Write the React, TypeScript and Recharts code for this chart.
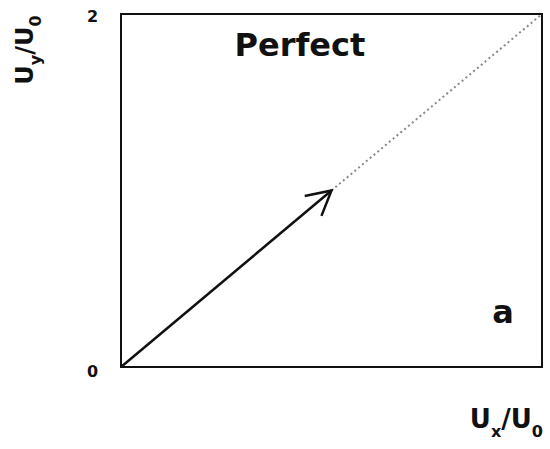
import { ComposedChart, Line, XAxis, YAxis, ReferenceArea, ReferenceDot, Label } from "recharts";

// velocity ratio axes run 0..2 on both sides
const axisTicks = [0, 2];
const velocityX = [0, 1];
const velocityY = [0, 1];
const guideX = [1, 2];
const guideY = [1, 2];

const arrowData = velocityX.map((x, i) => ({ x, y: velocityY[i] }));
const guideData = guideX.map((x, i) => ({ x, y: guideY[i] }));

const FONT = "'DejaVu Sans', sans-serif";

function YTick(props: any) {
  const { y, payload } = props;
  return (
    <text x={92.5} y={y + (payload.value === 0 ? 4 : 2)} textAnchor="middle" dominantBaseline="central"
      fontFamily={FONT} fontWeight="bold" fontSize={16} fill="#111">
      {payload.value}
    </text>
  );
}

function YTitle() {
  return (
    <text transform="translate(33,50) rotate(-90)" textAnchor="middle" fontFamily={FONT} fontWeight="bold" fontSize={24} fill="#111">
      U<tspan fontSize={16} dy={8}>y</tspan>
      <tspan dy={-8}>/U</tspan>
      <tspan fontSize={16} dy={8}>0</tspan>
    </text>
  );
}

function XTitle() {
  return (
    <text x={543} y={428} textAnchor="end" fontFamily={FONT} fontWeight="bold" fontSize={26} fill="#111">
      U<tspan fontSize={16} dy={9}>x</tspan>
      <tspan dy={-9}>/U</tspan>
      <tspan fontSize={16} dy={9}>0</tspan>
    </text>
  );
}

function Tag(text: string) {
  return (props: any) => {
    const { viewBox } = props;
    return (
      <text x={viewBox.x} y={viewBox.y} textAnchor="middle" fontFamily={FONT} fontWeight="bold" fontSize={32} fill="#111">
        {text}
      </text>
    );
  };
}

export default function App() {
  return (
    <div style={{ position: "absolute", left: 0, top: 0, background: "#fff" }}>
      <ComposedChart width={550} height={449} margin={{ top: 14, right: 8, bottom: 0, left: 0 }}>
        <defs>
          <marker id="head" markerUnits="userSpaceOnUse" markerWidth={32} markerHeight={32}
            refX={28} refY={15} orient="auto" viewBox="0 0 32 32">
            <path d="M4,2 L28,15 L4,28" fill="none" stroke="#111" strokeWidth={2.5} />
          </marker>
        </defs>
        <XAxis type="number" dataKey="x" domain={[0, 2]} height={82} tick={false} axisLine={false} tickLine={false}>
          <Label content={XTitle} />
        </XAxis>
        <YAxis type="number" dataKey="y" domain={[0, 2]} ticks={axisTicks} width={121}
          tick={YTick} axisLine={false} tickLine={false}>
          <Label content={YTitle} />
        </YAxis>
        <ReferenceArea x1={0} x2={2} y1={0} y2={2} fill="none" stroke="#111" strokeWidth={2} fillOpacity={0} />
        <Line data={guideData} dataKey="y" stroke="#888" strokeWidth={2} strokeDasharray="2 3"
          dot={false} isAnimationActive={false} />
        <Line data={arrowData} dataKey="y" stroke="#111" strokeWidth={2.5} markerEnd="url(#head)"
          dot={false} isAnimationActive={false} />
        <ReferenceDot x={0.85} y={1.762} r={0} stroke="none" label={Tag("Perfect")} />
        <ReferenceDot x={1.815} y={0.249} r={0} stroke="none" label={Tag("a")} />
      </ComposedChart>
    </div>
  );
}
